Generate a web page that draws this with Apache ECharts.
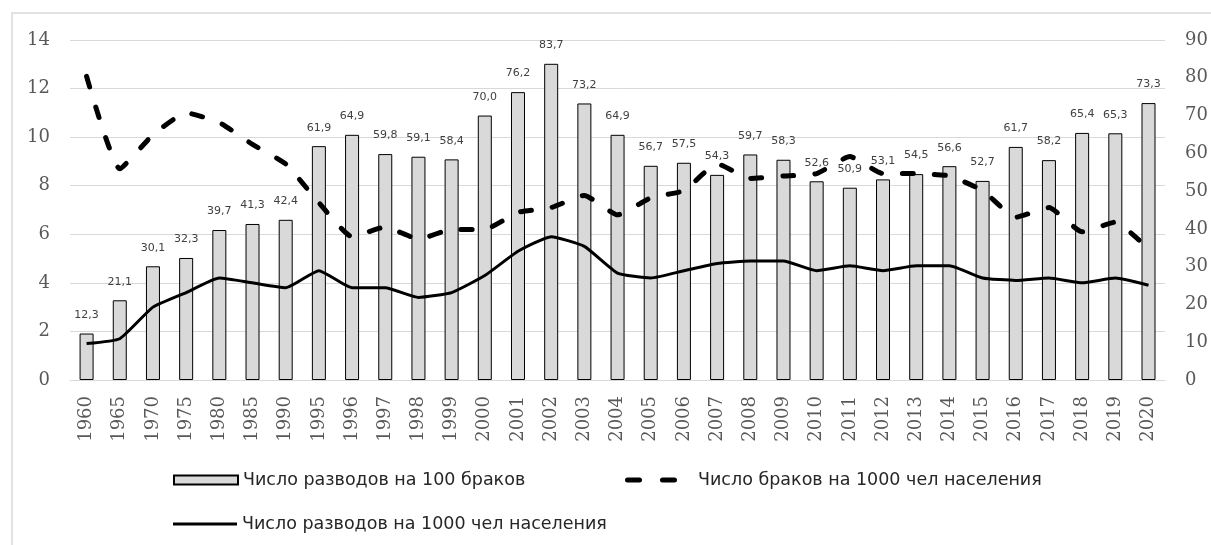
<!DOCTYPE html>
<html>
<head>
<meta charset="utf-8">
<script src="https://cdn.jsdelivr.net/npm/echarts@6/dist/echarts.min.js"></script>
<style>
  html, body { margin: 0; padding: 0; background: #fff; }
  #chart { width: 1211px; height: 545px; }
</style>
</head>
<body>
<div id="chart"></div>
<script>
// годы
const years = ['1960', '1965', '1970', '1975', '1980', '1985', '1990', '1995', '1996', '1997',
  '1998', '1999', '2000', '2001', '2002', '2003', '2004', '2005', '2006', '2007', '2008', '2009',
  '2010', '2011', '2012', '2013', '2014', '2015', '2016', '2017', '2018', '2019', '2020']
// число разводов на 100 браков (столбцы, правая ось)
const divorcesPer100 = [12.3, 21.1, 30.1, 32.3, 39.7, 41.3, 42.4, 61.9, 64.9, 59.8,
  59.1, 58.4, 70.0, 76.2, 83.7, 73.2, 64.9, 56.7, 57.5, 54.3, 59.7, 58.3,
  52.6, 50.9, 53.1, 54.5, 56.6, 52.7, 61.7, 58.2, 65.4, 65.3, 73.3]
// число браков на 1000 чел (пунктир, левая ось)
const marriagesPer1000 = [12.5, 8.7, 10.1, 11.0, 10.6, 9.7, 8.9, 7.3, 5.9, 6.3,
  5.8, 6.2, 6.2, 6.9, 7.1, 7.6, 6.8, 7.5, 7.8, 8.9, 8.3, 8.4,
  8.5, 9.2, 8.5, 8.5, 8.4, 7.8, 6.7, 7.1, 6.1, 6.5, 5.4]
// число разводов на 1000 чел (сплошная, левая ось)
const divorcesPer1000 = [1.5, 1.7, 3.0, 3.6, 4.2, 4.0, 3.8, 4.5, 3.8, 3.8,
  3.4, 3.6, 4.3, 5.3, 5.9, 5.5, 4.4, 4.2, 4.5, 4.8, 4.9, 4.9,
  4.5, 4.7, 4.5, 4.7, 4.7, 4.2, 4.1, 4.2, 4.0, 4.2, 3.9]

const names = ['Число разводов на 100 браков', 'Число браков на 1000 чел населения', 'Число разводов на 1000 чел населения']

const axisFont = { fontFamily: 'DejaVu Serif', fontSize: 18, color: '#595959' }
const legendFont = { fontFamily: 'DejaVu Sans', fontSize: 17.5, color: '#262626' }

const myChart = echarts.init(document.getElementById('chart'))
const option = {
  animation: false,
  backgroundColor: '#fff',
  graphic: [{
    type: 'rect',
    shape: { x: 12, y: 13, width: 1205, height: 540 },
    style: { fill: 'none', stroke: '#d9d9d9', lineWidth: 1.5 },
    silent: true
  }],
  grid: { left: 70, right: 45, top: 40, bottom: 165 },
  legend: [
    {
      left: 173, top: 471, padding: 0, itemWidth: 64, itemHeight: 9,
      textStyle: legendFont,
      data: [{ name: names[0], icon: 'rect' }]
    },
    {
      left: 625, top: 471, padding: 0, itemWidth: 52, itemHeight: 5,
      textStyle: { ...legendFont, padding: [0, 0, 0, 16] },
      data: [{ name: names[1], icon: 'path://M2.5,0H14.5A2.5,2.5 0 0 1 14.5,5H2.5A2.5,2.5 0 0 1 2.5,0Z M37.5,0H49.5A2.5,2.5 0 0 1 49.5,5H37.5A2.5,2.5 0 0 1 37.5,0Z' }]
    },
    {
      left: 173, top: 515, padding: 0, itemWidth: 64, itemHeight: 3,
      textStyle: legendFont,
      data: [{ name: names[2], icon: 'path://M0,0H64V3H0Z' }]
    }
  ],
  xAxis: {
    type: 'category',
    data: years,
    axisTick: { show: false },
    axisLine: { lineStyle: { color: '#d9d9d9', width: 1 } },
    axisLabel: { ...axisFont, rotate: 90, margin: 16, interval: 0 }
  },
  yAxis: [
    {
      type: 'value', min: 0, max: 14, interval: 2,
      axisLabel: { ...axisFont, margin: 20 },
      axisLine: { show: false },
      splitLine: { lineStyle: { color: '#d9d9d9', width: 1 } }
    },
    {
      type: 'value', min: 0, max: 90, interval: 10, position: 'right',
      axisLabel: { ...axisFont, margin: 20 },
      axisLine: { show: false },
      splitLine: { show: false }
    }
  ],
  series: [
    {
      name: names[0],
      type: 'bar',
      yAxisIndex: 1,
      data: divorcesPer100,
      barWidth: 14,
      itemStyle: { color: '#d9d9d9', borderColor: '#000', borderWidth: 1 },
      label: {
        show: true,
        position: 'top',
        distance: 13,
        fontFamily: 'DejaVu Sans',
        fontSize: 11,
        color: '#404040',
        formatter: (p) => p.value.toFixed(1).replace('.', ',')
      },
      z: 1
    },
    {
      name: names[1],
      type: 'line',
      yAxisIndex: 0,
      data: marriagesPer1000,
      symbol: 'none',
      smooth: 0.15,
      lineStyle: { color: '#000', width: 5, type: [11, 21], cap: 'round' },
      itemStyle: { color: '#000' },
      z: 3
    },
    {
      name: names[2],
      type: 'line',
      yAxisIndex: 0,
      data: divorcesPer1000,
      symbol: 'none',
      smooth: 0.15,
      lineStyle: { color: '#000', width: 3 },
      itemStyle: { color: '#000' },
      z: 3
    }
  ]
}
myChart.setOption(option)
</script>
</body>
</html>
